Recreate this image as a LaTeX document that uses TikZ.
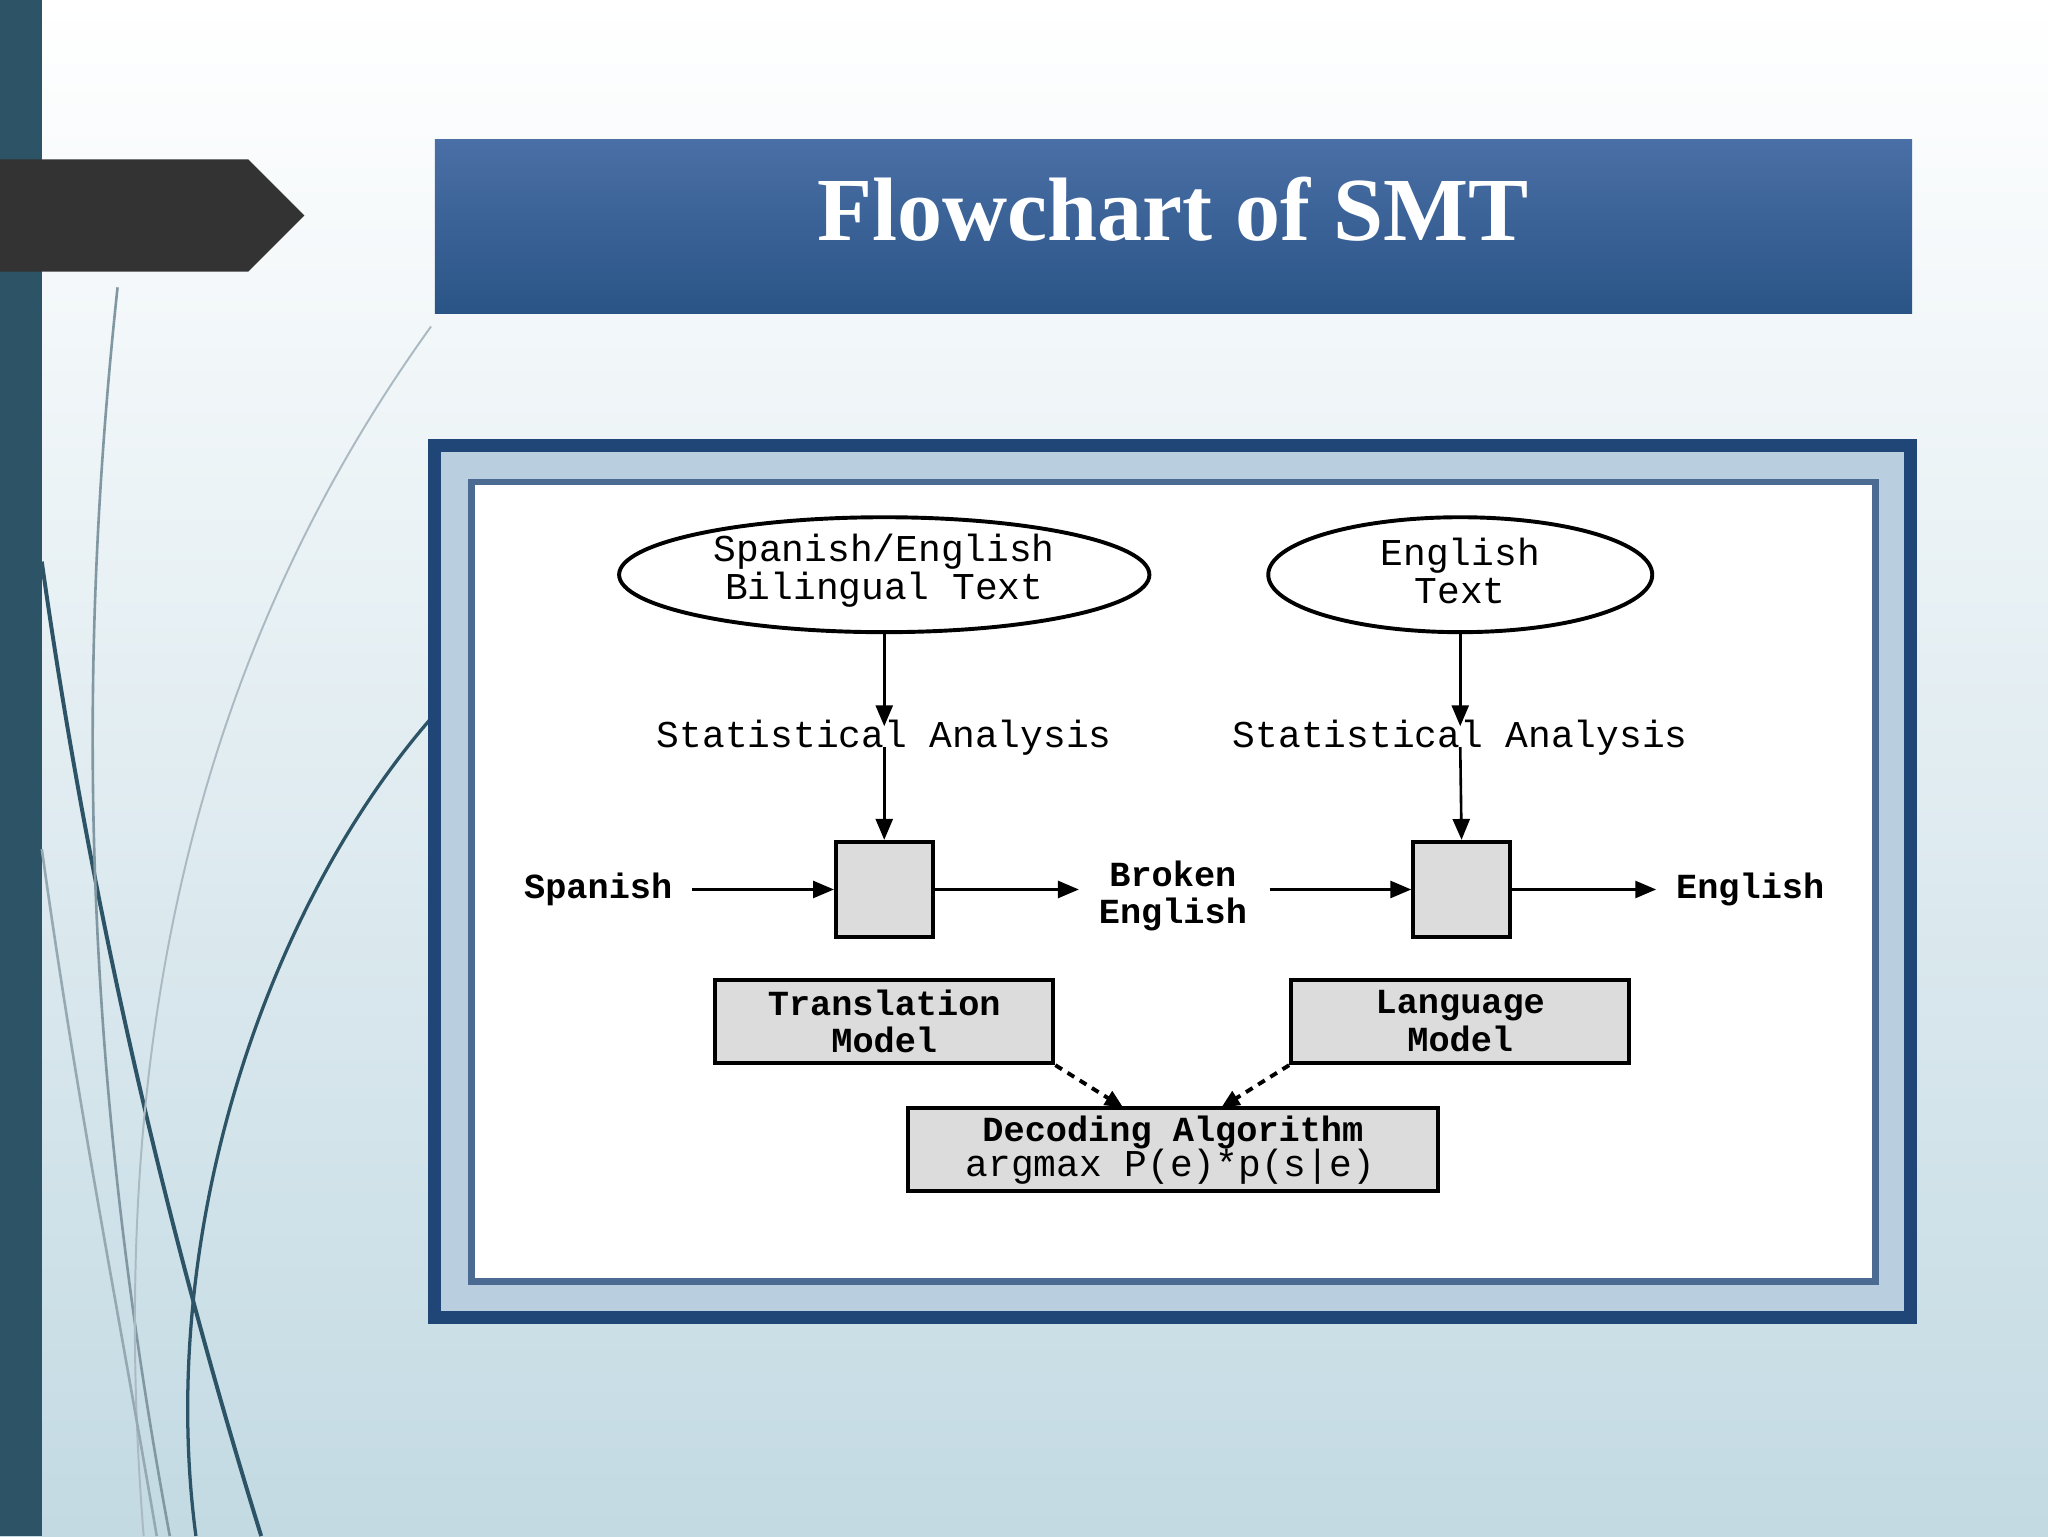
\documentclass[tikz,border=0pt]{standalone}
\usepackage{fontspec}
\setmainfont{Liberation Serif}
\newfontfamily\mono{Liberation Mono}
\usetikzlibrary{arrows.meta}
\definecolor{bgtop}{HTML}{FFFFFF}
\definecolor{bgbot}{HTML}{C3DAE3}
\definecolor{teal}{HTML}{2D5366}
\definecolor{ttop}{HTML}{4A6FA6}
\definecolor{tbot}{HTML}{2A5486}
\definecolor{frame}{HTML}{1F4677}
\definecolor{framein}{HTML}{B9CFE0}
\definecolor{boxg}{HTML}{DCDCDC}
\tikzset{
 lbl/.style={font=\mono\fontsize{29}{29}\selectfont, align=center, inner sep=0},
 blbl/.style={font=\mono\bfseries\fontsize{27}{29}\selectfont, align=center, inner sep=0},
 shp/.style={draw=black, line width=3pt},
 arr/.style={-{Triangle[length=16pt,width=13pt]}, line width=2pt},
 darr/.style={-{Triangle[length=14pt,width=12pt]}, line width=3pt, dash pattern=on 6pt off 5pt},
}
\begin{document}
\begin{tikzpicture}[x=1pt,y=-1pt]
\useasboundingbox (0,0) rectangle (1568,1176);
\shade[top color=bgtop, bottom color=bgbot] (0,0) rectangle (1568,1176);
\fill[teal] (0,0) rectangle (32,1176);
\fill[black!80] (0,122) -- (190,122) -- (233,165) -- (190,208) -- (0,208) -- cycle;
% decorative curves
\draw[teal, line width=3pt] (32,430) .. controls (70,700) and (130,950) .. (200,1176);
\draw[teal, line width=2.5pt] (330,550) .. controls (200,700) and (120,950) .. (150,1176);
\draw[teal!60, line width=2pt] (90,220) .. controls (60,500) and (60,800) .. (130,1176);
\draw[teal!40, line width=1.5pt] (330,250) .. controls (150,500) and (80,800) .. (110,1176);
\draw[teal!50, line width=2pt] (32,650) .. controls (60,850) and (90,1000) .. (120,1176);
% title
\shade[top color=ttop, bottom color=tbot] (333,107) rectangle (1464,240);
\node[text=white, font=\bfseries\fontsize{69}{72}\selectfont] (title) at (898,160) {Flowchart of SMT};
% frame
\fill[frame] (328,336) rectangle (1468,1014);
\fill[framein] (338,346) rectangle (1458,1004);
\draw[frame!80, line width=5pt, fill=white] (361,369) rectangle (1436,981);
% ellipses
\draw[shp] (677,440) ellipse [x radius=203, y radius=44];
\draw[shp] (1118,440) ellipse [x radius=147, y radius=44];
\node[lbl] (e1) at (677,437) {Spanish/English\\Bilingual Text};
\node[lbl] (e2) at (1118,437) {English\\Text};
\coordinate (e1b) at (677,484);
\coordinate (e2b) at (1118,484);
\node[lbl] (s1) at (677,565) {Statistical Analysis};
\node[lbl] (s2) at (1118,565) {Statistical Analysis};
\coordinate (s1a) at (677,556);
\coordinate (s1b) at (677,572);
\coordinate (s2a) at (1118,556);
\coordinate (s2b) at (1118,572);
% boxes
\node[shp, fill=boxg, minimum width=74, minimum height=73, inner sep=0] (b1) at (677,681) {};
\node[shp, fill=boxg, minimum width=74, minimum height=73, inner sep=0] (b2) at (1119,681) {};
\draw[arr] (e1b) -- (s1a);
\draw[arr] (s1b) -- (b1.north);
\draw[arr] (e2b) -- (s2a);
\draw[arr] (s2b) -- (b2.north);
\node[blbl] (sp) at (458,681) {Spanish};
\node[blbl] (be) at (898,686) {Broken\\English};
\node[blbl] (en) at (1340,681) {English};
\coordinate (c1) at (530,681);
\coordinate (c2) at (826,681);
\coordinate (c3) at (972,681);
\coordinate (c4) at (1268,681);
\draw[arr] (c1) -- (b1.west);
\draw[arr] (b1.east) -- (c2);
\draw[arr] (c3) -- (b2.west);
\draw[arr] (b2.east) -- (c4);
% model boxes
\node[shp, fill=boxg, minimum width=259, minimum height=64, inner sep=0, blbl] (tm) at (677,782) {Translation\\Model};
\node[shp, fill=boxg, minimum width=259, minimum height=64, inner sep=0, blbl] (lm) at (1118,782) {Language\\Model};
\node[shp, fill=boxg, minimum width=406, minimum height=63, inner sep=0] (da) at (898,880) {};
\node[blbl] (dat) at (898,867) {Decoding Algorithm};
\node[lbl] (dab) at (896,893) {argmax P(e)*p(s|e)};
\draw[darr] (tm.south east) -- (860,848);
\draw[darr] (lm.south west) -- (935,848);
\end{tikzpicture}
\end{document}
